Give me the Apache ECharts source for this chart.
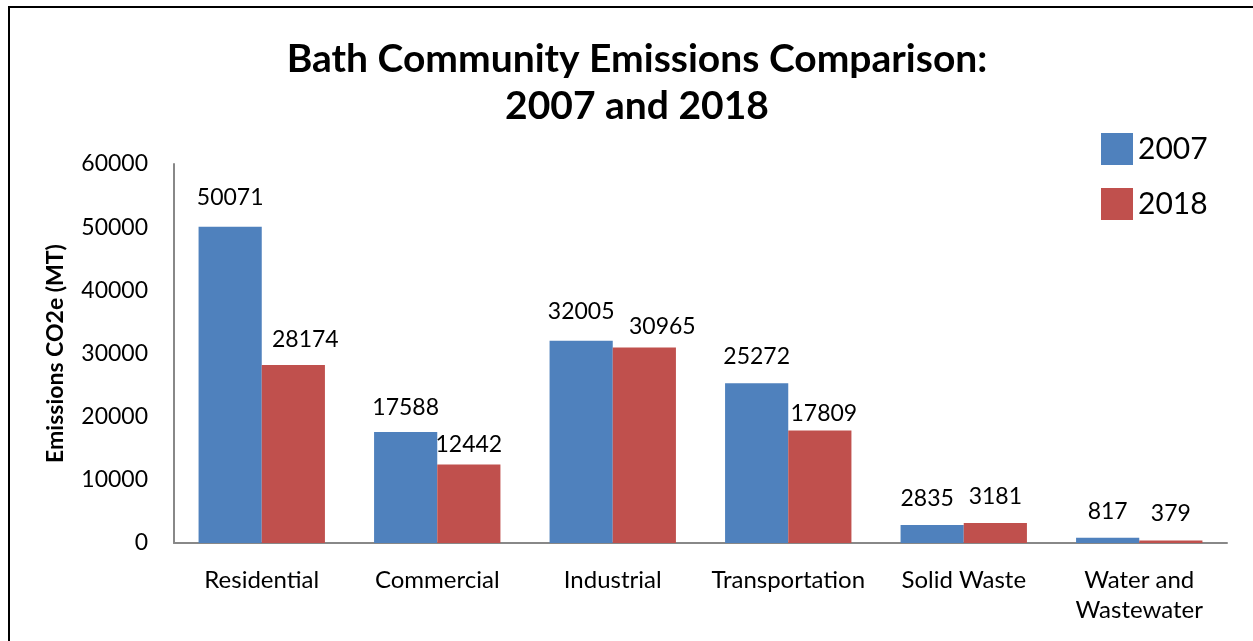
<!DOCTYPE html>
<html><head><meta charset="utf-8">
<script src="https://cdn.jsdelivr.net/npm/echarts@6/dist/echarts.min.js"></script>
<style>html,body{margin:0;padding:0;background:#fff;}#c{width:1253px;height:641px;}
#frame{position:absolute;left:8px;top:6px;width:1260px;height:660px;border:2px solid #000;box-sizing:border-box;pointer-events:none;}</style>
</head><body><div id="c"></div><div id="frame"></div>
<script>
const categories = ['Residential','Commercial','Industrial','Transportation','Solid Waste','Water and\nWastewater'];
const values2007 = [50071,17588,32005,25272,2835,817];
const values2018 = [28174,12442,30965,17809,3181,379];
const seriesNames = ['2007','2018'];
// hand-placed label nudges seen in the original (style only)
const labelNudge2007 = [[0,-3],[0,2],[0,-3],[0,0],[-5,0],[0,0]];
const labelNudge2018 = [[12,1],[0,7],[18,6],[4,10],[0,0],[0,-1]];
const FONT = 'Lato, "Open Sans", sans-serif';
function items(vals, nudges){
  return vals.map((v,i)=>({value:v,label:{offset:nudges[i]}}));
}
const chart = echarts.init(document.getElementById('c'));
chart.setOption({
  animation:false,
  title:{text:'Bath Community Emissions Comparison:\n2007 and 2018',left:632,top:31,textAlign:'center',
    textStyle:{fontFamily:FONT,fontSize:39,fontWeight:'bold',color:'#000',lineHeight:47}},
  legend:{orient:'vertical',left:1096,top:128,itemWidth:32,itemHeight:32,itemGap:23,
    textStyle:{fontFamily:FONT,fontSize:30,color:'#000'},icon:'rect',data:seriesNames},
  grid:{left:174,right:26,top:164,bottom:98,containLabel:false},
  xAxis:{type:'category',data:categories,axisTick:{show:false},
    axisLine:{lineStyle:{color:'#888',width:2}},
    axisLabel:{fontFamily:FONT,fontSize:24,color:'#000',margin:22,lineHeight:30,interval:0}},
  yAxis:{type:'value',min:0,max:60000,interval:10000,splitLine:{show:false},
    axisLine:{show:true,lineStyle:{color:'#888',width:2}},axisTick:{show:false},
    axisLabel:{fontFamily:FONT,fontSize:23,color:'#000',margin:26,formatter:v=>String(v)},
    name:'Emissions CO2e (MT)',nameLocation:'middle',nameGap:107,nameRotate:90,
    nameTextStyle:{fontFamily:FONT,fontSize:23,fontWeight:'bold',color:'#000'}},
  series:[
    {name:seriesNames[0],type:'bar',data:items(values2007,labelNudge2007),barGap:'0%',barCategoryGap:'28%',
      itemStyle:{color:'#4F81BD'},
      label:{show:true,position:'top',distance:15,fontFamily:FONT,fontSize:23,color:'#000'}},
    {name:seriesNames[1],type:'bar',data:items(values2018,labelNudge2018),
      itemStyle:{color:'#C0504D'},
      label:{show:true,position:'top',distance:15,fontFamily:FONT,fontSize:23,color:'#000'}}
  ]
});
</script></body></html>
